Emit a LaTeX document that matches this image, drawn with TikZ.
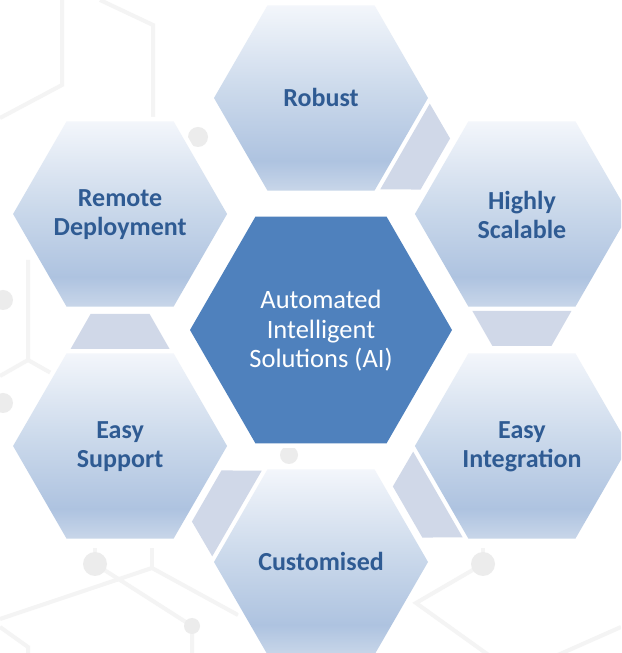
\documentclass[tikz,border=0pt]{standalone}
\usepackage{fontspec}
\setmainfont{Carlito}
\usetikzlibrary{calc}
\definecolor{centerblue}{HTML}{4F81BD}
\definecolor{conncol}{HTML}{D0D8E8}
\definecolor{txtblue}{HTML}{2F5B93}
\definecolor{gT}{HTML}{F3F6FB}
\definecolor{gM}{HTML}{CBD9EB}
\definecolor{gL}{HTML}{AEC3E0}
\definecolor{gB}{HTML}{C8D6E9}
\definecolor{bgline}{HTML}{F4F4F4}
\definecolor{bgdot}{HTML}{ECECEC}
\pgfdeclareverticalshading{hexgrad}{100bp}{color(0bp)=(gB); color(25bp)=(gB); color(33bp)=(gL); color(52bp)=(gM); color(75bp)=(gT); color(100bp)=(gT)}
\newcommand\hexshape[2]{(#1) +(0:#2) -- +(60:#2) -- +(120:#2) -- +(180:#2) -- +(240:#2) -- +(300:#2) -- cycle}
\tikzset{
  outertext/.style={text=txtblue, align=center, font=\fontsize{26}{29}\selectfont\bfseries, inner sep=0pt},
  centertext/.style={text=white, align=center, font=\fontsize{26.5}{29.5}\selectfont, inner sep=0pt},
  halo/.style={fill=white, draw=white, line width=9pt, line join=miter},
  outerhex/.style={shading=hexgrad},
  centerhex/.style={fill=centerblue},
  connector/.style={fill=conncol},
  bgl/.style={draw=bgline, line width=4pt},
  bgc/.style={fill=bgdot}
}
\begin{document}
\begin{tikzpicture}[x=1pt,y=1pt]
\clip (0,0) rectangle (621,653);
\fill[white] (0,0) rectangle (621,653);
% background decoration (image y -> 653-y)
\draw[bgl] (62,653) -- (62,568) -- (0,535);
\draw[bgl] (100,653) -- (153,628) -- (153,535);
\draw[bgl] (28,393) -- (28,293) -- (0,277);
\draw[bgl] (28,293) -- (58,276);
\draw[bgl] (0,34) -- (152,85) -- (238,38);
\draw[bgl] (152,85) -- (152,105);
\draw[bgl] (95,89) -- (192,27) -- (192,0);
\draw[bgl] (0,26) -- (28,6) -- (28,0);
\draw[bgl] (95,89) -- (95,105);
\draw[bgl] (483,89) -- (416,50) -- (515,-21);
\draw[bgl] (621,26) -- (515,-21);
\draw[bgl] (483,89) -- (483,105);
\fill[bgc] (95,89) circle (12);
\fill[bgc] (192,27) circle (8);
\fill[bgc] (483,89) circle (12);
\fill[bgc] (289,198) circle (9);
\fill[bgc] (3,353) circle (10);
\fill[bgc] (3,250) circle (10);
\fill[bgc] (198,516) circle (10);
% centres
\coordinate (cC) at (321,323);
\coordinate (cR) at ($(cC)+(90:232)$);
\coordinate (cH) at ($(cC)+(30:232)$);
\coordinate (cI) at ($(cC)+(-30:232)$);
\coordinate (cU) at ($(cC)+(-90:232)$);
\coordinate (cS) at ($(cC)+(-150:232)$);
\coordinate (cD) at ($(cC)+(150:232)$);
% white halos
\path[halo] \hexshape{cC}{131};
\foreach \c in {cR,cH,cI,cU,cS,cD} { \path[halo] \hexshape{\c}{107}; }
% connectors (trapezoids between neighbouring hexagons)
\fill[connector, shift={(cR)}, rotate=-30] (97,-49.5) -- (97,49.5) -- (132,29.5) -- (132,-29.5) -- cycle;
\fill[connector, shift={(cH)}, rotate=-90] (97,-49.5) -- (97,49.5) -- (132,29.5) -- (132,-29.5) -- cycle;
\fill[connector, shift={(cI)}, rotate=-150] (97,-49.5) -- (97,49.5) -- (132,29.5) -- (132,-29.5) -- cycle;
\fill[connector, shift={(cU)}, rotate=150] (97,-49.5) -- (97,49.5) -- (132,29.5) -- (132,-29.5) -- cycle;
\fill[connector, shift={(cS)}, rotate=90] (97,-49.5) -- (97,49.5) -- (132,29.5) -- (132,-29.5) -- cycle;
% hexagons
\path[centerhex] \hexshape{cC}{131};
\foreach \c in {cR,cH,cI,cU,cS,cD} { \shade[outerhex] \hexshape{\c}{107}; }
% texts
\node[centertext] (ai) at ($(cC)+(0,-1)$) {Automated\\Intelligent\\Solutions (AI)};
\node[outertext] (robust) at ($(cR)+(0,1)$) {Robust};
\node[outertext] (scalable) at ($(cH)+(0,-1)$) {Highly\\Scalable};
\node[outertext] (integration) at ($(cI)+(0,-1)$) {Easy\\Integration};
\node[outertext] (customised) at ($(cU)+(0,1)$) {Customised};
\node[outertext] (support) at ($(cS)+(0,-1)$) {Easy\\Support};
\node[outertext] (remote) at ($(cD)+(0,-1)$) {Remote\\Deployment};
\end{tikzpicture}
\end{document}
